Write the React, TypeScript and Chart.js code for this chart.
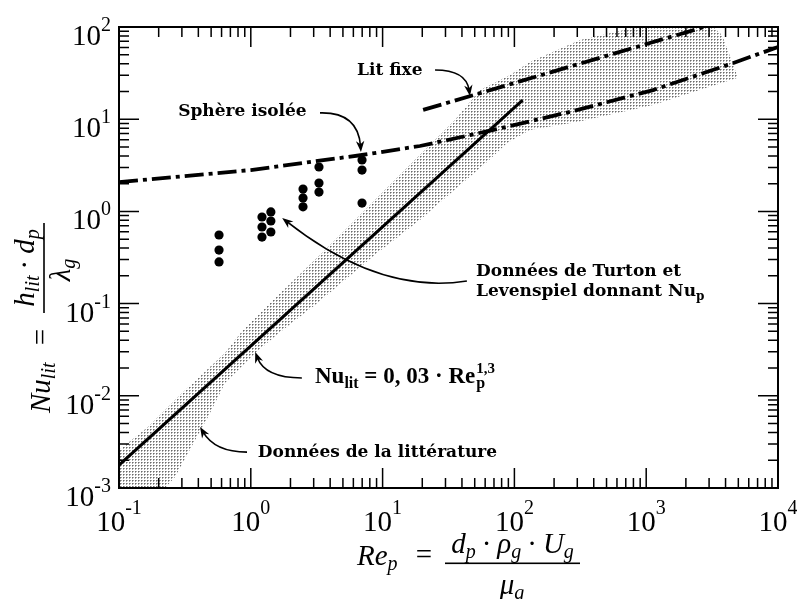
import React, { useEffect, useRef } from 'react';
import { Chart, registerables } from 'chart.js';

Chart.register(...registerables);

// ---------------- data ----------------
// Turton & Levenspiel measurements (Re_p, Nu_p)
const DOT_RE = [0.574, 0.574, 0.574, 1.216, 1.216, 1.216, 1.42, 1.42, 1.42, 2.49, 2.49, 2.49, 3.29, 3.29, 3.29, 6.98, 6.98, 6.98];
const DOT_NU = [0.555, 0.381, 0.283, 0.869, 0.677, 0.527, 0.986, 0.787, 0.598, 1.75, 1.40, 1.12, 3.03, 2.03, 1.62, 3.61, 2.81, 1.23];

// Isolated sphere correlation (dash-dot)
const SPHERE_RE = [0.1, 1.0, 6.98, 19.2, 65.3, 264, 1127, 4325, 10000];
const SPHERE_NU = [2.08, 2.81, 4.09, 5.12, 7.5, 12.0, 20.7, 39.5, 60.7];

// Fixed bed correlation (dash-dot)
const FIXED_RE = [20.3, 2750];
const FIXED_NU = [12.6, 100];

// Nu_lit = 0,03 Re_p^1,3 (solid)
const CORREL_RE = [0.1, 115.6];
const CORREL_NU = [0.00177, 16.1];

// Literature data envelope (stippled band), polygon outline
const BAND_RE = [0.1, 0.1, 0.166, 0.301, 0.637, 0.873, 1.47, 3.47, 6.18, 16.1, 35.4, 54.8, 92.7, 131, 315, 851, 3048, 3758, 4887,
  4887, 1127, 299, 131, 87.9, 61.9, 27.3, 19.2, 9.08, 3.07, 1.67, 1.08, 0.637, 0.473, 0.378, 0.266, 0.223, 0.205];
const BAND_NU = [0.000861, 0.00258, 0.00459, 0.0107, 0.0291, 0.0518, 0.109, 0.354, 0.807, 3.18, 9.80, 20.7, 30.1, 41.7, 72.2, 100, 108, 81.9, 30.1,
  28.0, 14.3, 9.33, 7.64, 5.52, 3.44, 1.26, 0.807, 0.354, 0.0966, 0.0492, 0.0291, 0.0138, 0.00589, 0.00332, 0.00132, 0.001, 0.000861];

const X_TICK_EXPONENTS = [-1, 0, 1, 2, 3, 4];
const Y_TICK_EXPONENTS = [-3, -2, -1, 0, 1, 2];
const MINOR_MULTIPLIERS = [2, 3, 4, 5, 6, 7, 8, 9];

// ---------------- fonts ----------------
const MATH = '"Liberation Serif", "DejaVu Serif", serif';
const LBL = '"DejaVu Serif", serif';
const B17 = `bold 17px ${LBL}`;
const B12 = `bold 12px ${LBL}`;
const FB23 = `bold 23px ${MATH}`;
const FB16 = `bold 16px ${MATH}`;
const FB15 = `bold 15px ${MATH}`;
const I29 = `italic 29px ${MATH}`;
const I20 = `italic 20px ${MATH}`;
const R29 = `29px ${MATH}`;
const R20 = `20px ${MATH}`;

type Seg = { t: string; f: string; dy?: number; dx?: number; hold?: boolean };

// annotations: label anchor (Re, Nu) and curved arrows in data space
const ANNOTATIONS: { lines: Seg[][]; at: [number, number]; arrow: { from: [number, number]; ctrl: [number, number]; to: [number, number] } }[] = [
  {
    lines: [[{ t: 'Lit fixe', f: B17 }]],
    at: [6.40, 30.1],
    arrow: { from: [25.0, 34.2], ctrl: [43.0, 34.2], to: [46.0, 17.9] },
  },
  {
    lines: [[{ t: 'Sphère isolée', f: B17 }]],
    at: [0.281, 10.8],
    arrow: { from: [3.35, 11.7], ctrl: [6.5, 12.0], to: [6.85, 4.41] },
  },
  {
    lines: [
      [{ t: 'Données de Turton et', f: B17 }],
      [{ t: 'Levenspiel donnant Nu', f: B17 }, { t: 'p', f: B12, dy: 4 }],
    ],
    at: [51.2, 0.199],
    arrow: { from: [43.6, 0.176], ctrl: [9.55, 0.124], to: [1.73, 0.848] },
  },
  {
    lines: [[
      { t: 'Nu', f: FB23 }, { t: 'lit', f: FB16, dy: 5 }, { t: ' = 0, 03 · Re', f: FB23 },
      { t: 'p', f: FB16, dy: 5, dx: 1, hold: true }, { t: '1,3', f: FB15, dy: -10, dx: 1 },
    ]],
    at: [3.07, 0.01377],
    arrow: { from: [2.44, 0.0156], ctrl: [1.28, 0.0156], to: [1.08, 0.0299] },
  },
  {
    lines: [[{ t: 'Données de la littérature', f: B17 }]],
    at: [1.13, 0.00217],
    arrow: { from: [0.936, 0.00245], ctrl: [0.535, 0.00245], to: [0.412, 0.00459] },
  },
];

function segWidth(ctx: CanvasRenderingContext2D, segs: Seg[]) {
  let w = 0;
  for (const s of segs) {
    ctx.font = s.f;
    const sw = ctx.measureText(s.t).width + (s.dx || 0);
    if (!s.hold) w += sw;
  }
  return w;
}

function drawSegs(ctx: CanvasRenderingContext2D, segs: Seg[], x: number, y: number) {
  let cx = x;
  for (const s of segs) {
    ctx.font = s.f;
    ctx.fillText(s.t, cx + (s.dx || 0), y + (s.dy || 0));
    if (!s.hold) cx += ctx.measureText(s.t).width + (s.dx || 0);
  }
  return cx;
}

function drawArrowHead(ctx: CanvasRenderingContext2D, tx: number, ty: number, fx: number, fy: number) {
  const ang = Math.atan2(ty - fy, tx - fx);
  const L = 11, W = 4.2;
  const cos = Math.cos(ang), sin = Math.sin(ang);
  const bx = tx - L * cos, by = ty - L * sin;
  ctx.beginPath();
  ctx.moveTo(tx, ty);
  ctx.lineTo(bx - W * sin, by + W * cos);
  ctx.lineTo(tx - 0.7 * L * cos, ty - 0.7 * L * sin);
  ctx.lineTo(bx + W * sin, by - W * cos);
  ctx.closePath();
  ctx.fill();
}

const paperPlugin = {
  id: 'paperAxes',
  afterDraw(chart: any) {
    const { ctx, chartArea: a } = chart;
    const xs = chart.scales.x, ys = chart.scales.y;
    const X = (v: number) => xs.getPixelForValue(v);
    const Y = (v: number) => ys.getPixelForValue(v);
    ctx.save();
    ctx.fillStyle = '#000';
    ctx.strokeStyle = '#000';

    // ticks (inward, mirrored on all four sides)
    ctx.lineWidth = 1.5;
    ctx.beginPath();
    for (const e of X_TICK_EXPONENTS) {
      for (const m of [1, ...MINOR_MULTIPLIERS]) {
        const v = m * Math.pow(10, e);
        if (v > xs.max * 1.0001) continue;
        const px = X(v);
        const len = m === 1 ? 20 : 10;
        ctx.moveTo(px, a.bottom); ctx.lineTo(px, a.bottom - len);
        ctx.moveTo(px, a.top); ctx.lineTo(px, a.top + len);
      }
    }
    for (const e of Y_TICK_EXPONENTS) {
      for (const m of [1, ...MINOR_MULTIPLIERS]) {
        const v = m * Math.pow(10, e);
        if (v > ys.max * 1.0001) continue;
        const py = Y(v);
        const len = m === 1 ? 20 : 10;
        ctx.moveTo(a.left, py); ctx.lineTo(a.left + len, py);
        ctx.moveTo(a.right, py); ctx.lineTo(a.right - len, py);
      }
    }
    ctx.stroke();

    // frame
    ctx.lineWidth = 2;
    ctx.strokeRect(a.left, a.top, a.right - a.left, a.bottom - a.top);

    // tick labels 10^n
    ctx.textAlign = 'left';
    ctx.textBaseline = 'alphabetic';
    for (const e of X_TICK_EXPONENTS) {
      const px = X(Math.pow(10, e));
      ctx.font = R29; const w10 = ctx.measureText('10').width;
      ctx.font = R20; const es = String(e); const we = ctx.measureText(es).width;
      const x0 = px - (w10 + we) / 2;
      ctx.font = R29; ctx.fillText('10', x0, a.bottom + 43);
      ctx.font = R20; ctx.fillText(es, x0 + w10, a.bottom + 26);
    }
    for (const e of Y_TICK_EXPONENTS) {
      const py = Y(Math.pow(10, e));
      ctx.font = R29; const w10 = ctx.measureText('10').width;
      ctx.font = R20; const es = String(e); const we = ctx.measureText(es).width;
      const x0 = a.left - 8 - (w10 + we);
      ctx.font = R29; ctx.fillText('10', x0, py + 18);
      ctx.font = R20; ctx.fillText(es, x0 + w10, py + 4);
    }

    // x axis title: Re_p = (d_p · ρ_g · U_g) / μ_g
    {
      const base = a.bottom + 77;
      drawSegs(ctx, [{ t: 'Re', f: I29 }, { t: 'p', f: I20, dy: 5 }], 357, base);
      ctx.font = R29; ctx.textAlign = 'center';
      ctx.fillText('=', 424, base - 1);
      ctx.textAlign = 'left';
      const barY = base - 2.5;
      ctx.fillRect(445, barY, 135, 1.6);
      const num: Seg[] = [
        { t: 'd', f: I29 }, { t: 'p', f: I20, dy: 5 }, { t: '·', f: R29, dx: 6 }, { t: 'ρ', f: I29, dx: 6 },
        { t: 'g', f: I20, dy: 5 }, { t: '·', f: R29, dx: 6 }, { t: 'U', f: I29, dx: 6 }, { t: 'g', f: I20, dy: 5 },
      ];
      const nw = segWidth(ctx, num);
      drawSegs(ctx, num, 512.5 - nw / 2, barY - 10);
      const den: Seg[] = [{ t: 'μ', f: I29 }, { t: 'g', f: I20, dy: 5 }];
      const dw = segWidth(ctx, den);
      drawSegs(ctx, den, 512 - dw / 2, barY + 31);
    }

    // y axis title (rotated): Nu_lit = (h_lit · d_p) / λ_g
    {
      ctx.save();
      ctx.translate(50, 413);
      ctx.rotate(-Math.PI / 2);
      drawSegs(ctx, [{ t: 'Nu', f: I29 }, { t: 'lit', f: I20, dy: 5 }], 0, 0);
      ctx.font = R29; ctx.textAlign = 'center';
      ctx.fillText('=', 76, 0);
      ctx.textAlign = 'left';
      ctx.fillRect(100, -6.8, 90, 1.6);
      const num: Seg[] = [
        { t: 'h', f: I29 }, { t: 'lit', f: I20, dy: 5 }, { t: '·', f: R29, dx: 6 }, { t: 'd', f: I29, dx: 6 }, { t: 'p', f: I20, dy: 5 },
      ];
      const nw = segWidth(ctx, num);
      drawSegs(ctx, num, 145 - nw / 2, -16);
      const den: Seg[] = [{ t: 'λ', f: I29 }, { t: 'g', f: I20, dy: 5 }];
      const dw = segWidth(ctx, den);
      drawSegs(ctx, den, 143 - dw / 2, 20);
      ctx.restore();
    }

    // annotations
    for (const an of ANNOTATIONS) {
      const lx = X(an.at[0]), ly = Y(an.at[1]);
      an.lines.forEach((line, i) => drawSegs(ctx, line, lx, ly + i * 20));
      const f = an.arrow.from, c = an.arrow.ctrl, t = an.arrow.to;
      const fx = X(f[0]), fy = Y(f[1]), cx = X(c[0]), cy = Y(c[1]), tx = X(t[0]), ty = Y(t[1]);
      ctx.lineWidth = 1.6;
      ctx.beginPath();
      ctx.moveTo(fx, fy);
      const ang = Math.atan2(ty - cy, tx - cx);
      ctx.quadraticCurveTo(cx, cy, tx - 6 * Math.cos(ang), ty - 6 * Math.sin(ang));
      ctx.stroke();
      drawArrowHead(ctx, tx, ty, cx, cy);
    }
    ctx.restore();
  },
};

const pts = (xs: number[], ys: number[]) => xs.map((x, i) => ({ x, y: ys[i] }));

export default function App() {
  const ref = useRef<HTMLCanvasElement>(null);
  useEffect(() => {
    const canvas = ref.current!;
    const ctx = canvas.getContext('2d')!;
    // stipple tile: small grey dots on a 3 px grid
    const tile = document.createElement('canvas');
    tile.width = 3; tile.height = 3;
    const tctx = tile.getContext('2d')!;
    tctx.fillStyle = '#6c6c6c';
    tctx.fillRect(0, 0, 1, 1);
    tctx.fillStyle = '#a8a8a8';
    tctx.fillRect(1, 0, 1, 1);
    tctx.fillRect(0, 1, 1, 1);
    const pattern = ctx.createPattern(tile, 'repeat')!;

    const dashDot = [19, 5, 4, 5];

    const chart = new Chart(canvas, {
      type: 'line',
      data: {
        datasets: [
          {
            label: 'Données de la littérature',
            data: pts(BAND_RE, BAND_NU),
            fill: 'shape',
            backgroundColor: pattern,
            borderColor: 'rgba(0,0,0,0)',
            borderWidth: 0,
            pointRadius: 0,
            order: 10,
          } as any,
          {
            label: 'Nu_lit = 0,03 Re_p^1,3',
            data: pts(CORREL_RE, CORREL_NU),
            borderColor: '#000',
            borderWidth: 3,
            pointRadius: 0,
            fill: false,
            order: 3,
          },
          {
            label: 'Sphère isolée',
            data: pts(SPHERE_RE, SPHERE_NU),
            borderColor: '#000',
            borderWidth: 3.8,
            borderDash: dashDot,
            pointRadius: 0,
            fill: false,
            order: 2,
          },
          {
            label: 'Lit fixe',
            data: pts(FIXED_RE, FIXED_NU),
            borderColor: '#000',
            borderWidth: 3.8,
            borderDash: dashDot,
            pointRadius: 0,
            fill: false,
            order: 2,
          },
          {
            label: 'Turton et Levenspiel',
            data: pts(DOT_RE, DOT_NU),
            showLine: false,
            pointRadius: 4.6,
            pointBackgroundColor: '#000',
            pointBorderColor: '#000',
            pointBorderWidth: 0,
            fill: false,
            order: 1,
          },
        ],
      },
      options: {
        responsive: false,
        animation: false,
        devicePixelRatio: 1,
        layout: { padding: { left: 119, right: 19, top: 27, bottom: 111 } },
        plugins: { legend: { display: false }, tooltip: { enabled: false } },
        events: [],
        scales: {
          x: { type: 'logarithmic', min: 0.1, max: 10000, display: false },
          y: { type: 'logarithmic', min: 0.001, max: 100, display: false },
        },
      },
      plugins: [paperPlugin],
    });
    return () => chart.destroy();
  }, []);

  return (
    <div style={{ position: 'fixed', left: 0, top: 0, width: 797, height: 599, background: '#fff' }}>
      <canvas ref={ref} width={797} height={599} style={{ width: 797, height: 599, display: 'block' }} />
    </div>
  );
}
